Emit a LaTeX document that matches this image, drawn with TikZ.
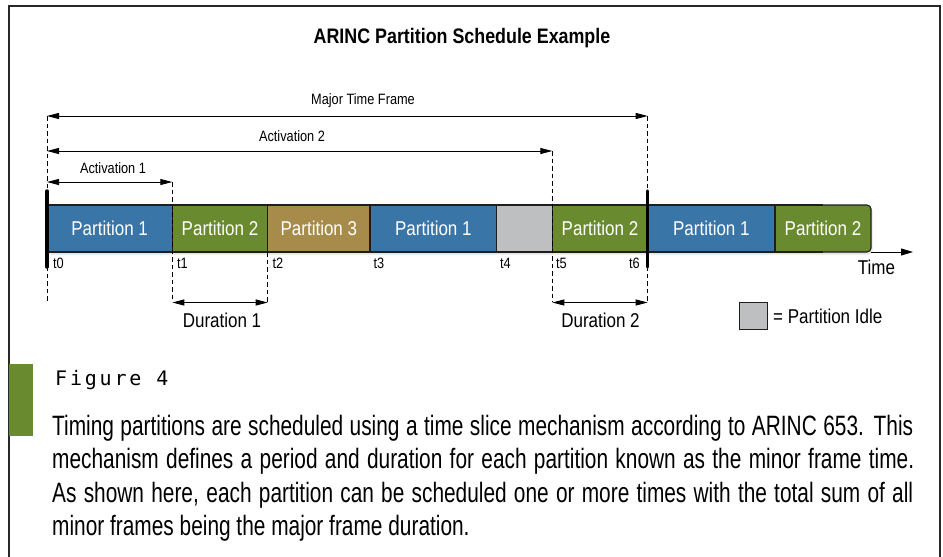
\documentclass[tikz,border=0pt]{standalone}
\usepackage{fontspec}
\setmainfont{Liberation Sans}[FakeStretch=0.85]
\newfontfamily\capfont{Liberation Sans}[FakeStretch=0.745]
\newfontfamily\figfont{DejaVu Sans Mono}[LetterSpace=14]
\usetikzlibrary{arrows.meta}

\definecolor{pblue}{RGB}{58,117,168}
\definecolor{pgreen}{RGB}{106,138,47}
\definecolor{ptan}{RGB}{166,139,75}
\definecolor{pidle}{RGB}{190,191,193}
\definecolor{barline}{RGB}{30,30,30}
\definecolor{framecol}{RGB}{40,40,40}

\tikzset{
  part/.style={draw=barline, line width=1.1pt, minimum height=47pt, inner sep=0pt,
    outer sep=0pt, anchor=west, text=white, font=\fontsize{20}{24}\selectfont},
  tick/.style={inner sep=0pt, font=\fontsize{15}{18}\selectfont},
  small/.style={inner sep=0pt, font=\fontsize{15}{18}\selectfont},
  mid/.style={inner sep=0pt, font=\fontsize{20}{24}\selectfont},
  guide/.style={draw=black, line width=0.8pt, dash pattern=on 4.5pt off 3pt},
  marker/.style={draw=black, line width=3.5pt, line cap=round},
  dimarrow/.style={draw=black, line width=0.9pt,
    {Triangle[length=12pt,width=6pt]}-{Triangle[length=12pt,width=6pt]}},
  capline/.style={inner sep=0pt, anchor=base west, font=\capfont\fontsize{28}{34}\selectfont},
}

\begin{document}
\begin{tikzpicture}[x=1pt,y=-1pt]
\useasboundingbox (0,0) rectangle (943,557);
\fill[white] (0,0) rectangle (943,557);

% open frame round the figure
\draw[framecol, line width=1.3pt] (9,557) -- (9,6) -- (940,6) -- (940,557);

% title
\node[inner sep=0pt, font=\bfseries\fontsize{21}{25}\selectfont] (title) at (462,38)
  {ARINC Partition Schedule Example};

% soft shadow under the schedule bar
\fill[black, opacity=0.10, rounded corners=4pt] (48,207) rectangle (872.5,254.5);

% schedule bar
\node[part, fill=pblue,  minimum width=125.3pt] (pa) at (47,228.5)    {Partition 1};
\node[part, fill=pgreen, minimum width=95.4pt]  (pb) at (172.3,228.5) {Partition 2};
\node[part, fill=ptan,   minimum width=102.3pt] (pc) at (267.7,228.5) {Partition 3};
\node[part, fill=pblue,  minimum width=126.7pt] (pd) at (370,228.5)   {Partition 1};
\node[part, fill=pidle,  minimum width=55.6pt]  (pe) at (496.7,228.5) {};
\node[part, fill=pgreen, minimum width=95.4pt]  (pf) at (552.3,228.5) {Partition 2};
\node[part, fill=pblue,  minimum width=127.3pt] (pg) at (647.7,228.5) {Partition 1};
\node[part, fill=pgreen, minimum width=96pt, rounded corners=4pt] (ph) at (775,228.5) {};
\filldraw[fill=pgreen, draw=barline, line width=1.1pt]
  (ph.south) -- (ph.south west) -- (ph.north west) -- (ph.north);
\node[text=white, font=\fontsize{20}{24}\selectfont, inner sep=0pt] (phtext) at (ph.center) {Partition 2};

% time axis
\coordinate (tend) at (913,252);
\draw[line width=0.9pt, -{Triangle[length=12pt,width=7pt]}] (ph.south east) -- (tend);
\node[mid] (timelbl) at (876.5,267) {Time};

% guide lines
\coordinate (g0a) at (47,116);    \coordinate (g0b) at (47,302);
\coordinate (g1a) at (172.3,182); \coordinate (g1b) at (172.3,302);
\coordinate (g2a) at (267.7,252); \coordinate (g2b) at (267.7,302);
\coordinate (g5a) at (552.3,151); \coordinate (g5b) at (552.3,302);
\coordinate (g6a) at (647.7,116); \coordinate (g6b) at (647.7,302);
\draw[guide] (g0a) -- (g0b);
\draw[guide] (g1a) -- (g1b);
\draw[guide] (g2a) -- (g2b);
\draw[guide] (g5a) -- (g5b);
\draw[guide] (g6a) -- (g6b);

% major frame markers
\coordinate (m0a) at (47,191);    \coordinate (m0b) at (47,267);
\coordinate (m6a) at (647.7,191); \coordinate (m6b) at (647.7,267);
\draw[marker] (m0a) -- (m0b);
\draw[marker] (m6a) -- (m6b);

% time stamps
\node[tick, anchor=west] (t0) at (53,263)  {t0};
\node[tick, anchor=west] (t1) at (177,263) {t1};
\node[tick, anchor=west] (t2) at (272.5,263) {t2};
\node[tick, anchor=west] (t3) at (373.5,263) {t3};
\node[tick, anchor=west] (t4) at (500,263) {t4};
\node[tick, anchor=west] (t5) at (556,263) {t5};
\node[tick, anchor=east] (t6) at (640,263) {t6};

% dimension arrows
\coordinate (maj0) at (47,116);    \coordinate (maj1) at (647.7,116);
\coordinate (act20) at (47,151);   \coordinate (act21) at (552.3,151);
\coordinate (act10) at (47,182);   \coordinate (act11) at (172.3,182);
\coordinate (dur10) at (172.3,302.5); \coordinate (dur11) at (267.7,302.5);
\coordinate (dur20) at (552.3,302.5); \coordinate (dur21) at (647.7,302.5);
\draw[dimarrow] (maj0) -- (maj1);
\draw[dimarrow] (act20) -- (act21);
\draw[dimarrow] (act10) -- (act11);
\draw[dimarrow] (dur10) -- (dur11);
\draw[dimarrow] (dur20) -- (dur21);
\node[small] (majlbl) at (363,101) {Major Time Frame};
\node[small] (act2lbl) at (292,136.5) {Activation 2};
\node[small] (act1lbl) at (113,168) {Activation 1};
\node[mid] (dur1lbl) at (222,320) {Duration 1};
\node[mid] (dur2lbl) at (600.5,320) {Duration 2};

% legend
\node[draw=barline, line width=1pt, fill=pidle, minimum width=27.4pt, minimum height=26.7pt,
  inner sep=0pt, anchor=north west] (legbox) at (739.3,302.3) {};
\node[mid, anchor=west] (legtxt) at (773,316) {= Partition Idle};

% caption
\fill[pgreen] (9,364) rectangle (33,436);
\node[inner sep=0pt, anchor=base west, font=\figfont\fontsize{20}{24}\selectfont] (fig) at (55,385) {Figure 4};
\node[capline] (cap1) at (52,435) {\makebox[861pt][s]{Timing partitions are scheduled using a time slice mechanism according to ARINC 653. This}};
\node[capline] (cap2) at (52,468.5) {\makebox[862pt][s]{mechanism defines a period and duration for each partition known as the minor frame time.}};
\node[capline] (cap3) at (52,502) {\makebox[861pt][s]{As shown here, each partition can be scheduled one or more times with the total sum of all}};
\node[capline] (cap4) at (52,535.5) {minor frames being the major frame duration.};
\end{tikzpicture}
\end{document}
